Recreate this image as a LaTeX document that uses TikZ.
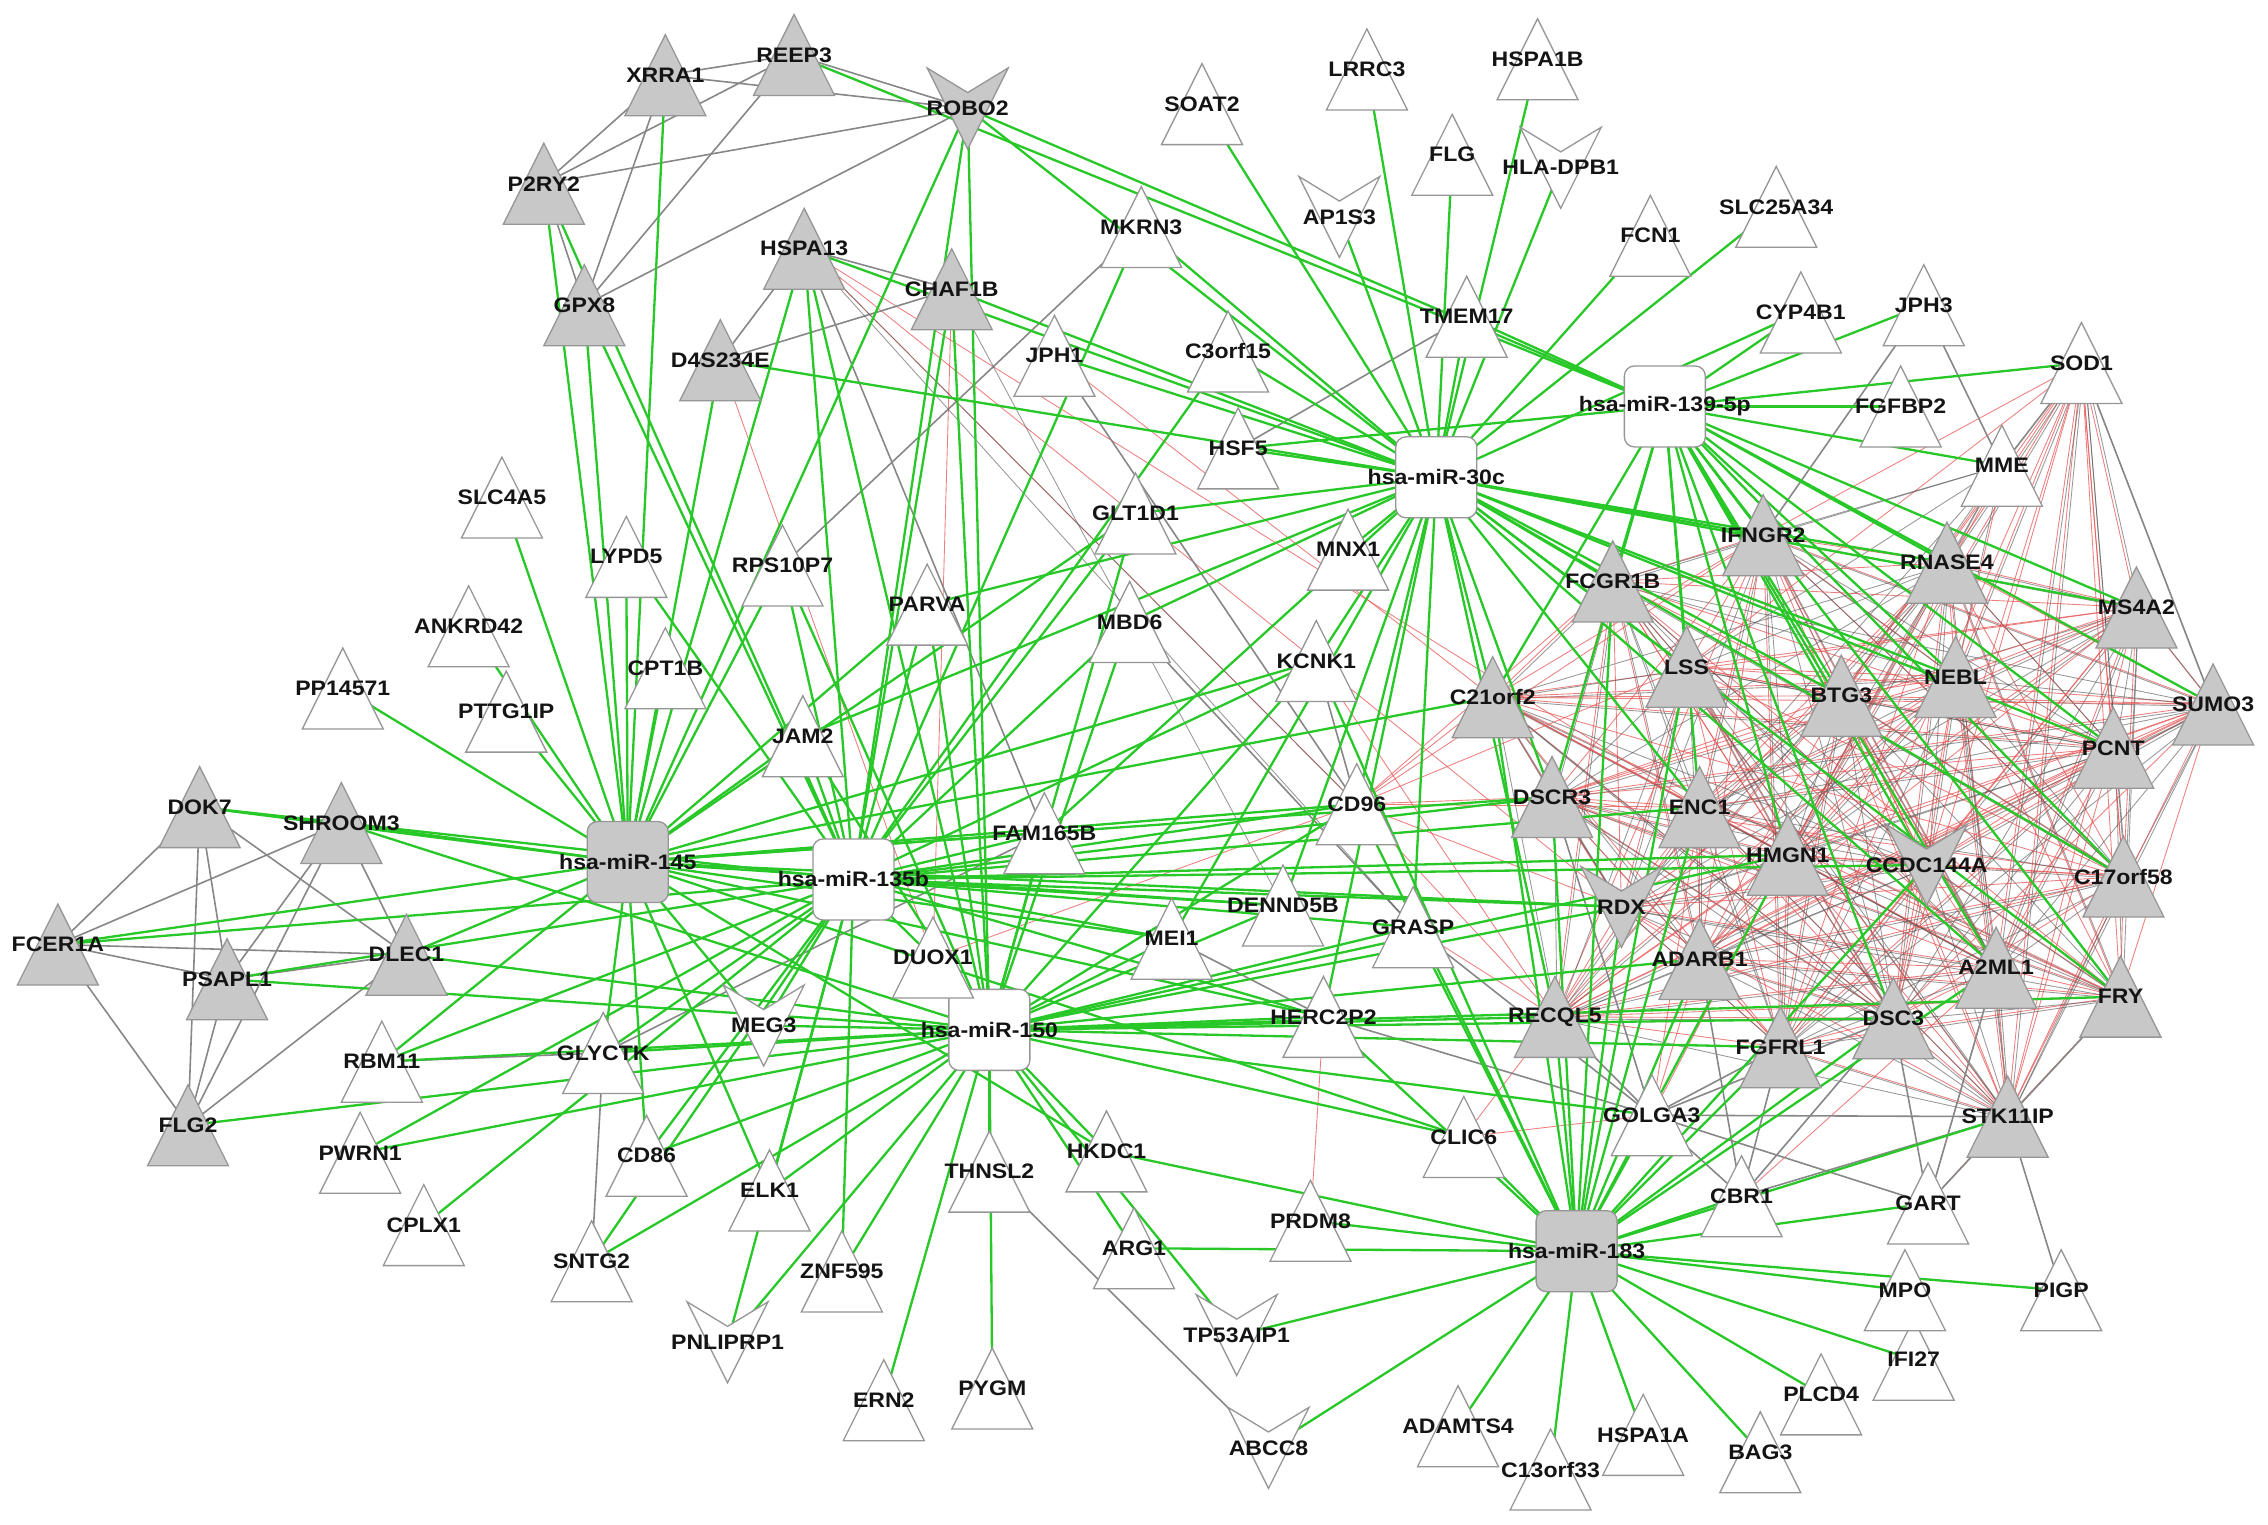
\documentclass[tikz,border=0pt]{standalone}
\usepackage{fontspec}
\setmainfont{Liberation Sans}[FakeStretch=1.1]
\pgfdeclarelayer{bg}
\pgfdeclarelayer{edges}
\pgfdeclarelayer{shapes}
\pgfsetlayers{bg,edges,shapes,main}
\definecolor{gfill}{RGB}{200,200,200}
\definecolor{bcol}{RGB}{150,150,150}
\definecolor{gcol}{RGB}{40,200,40}
\definecolor{ycol}{RGB}{135,135,135}
\definecolor{rcol}{RGB}{232,85,85}
\definecolor{dcol}{RGB}{85,85,85}
\tikzset{
  shW/.style={draw=bcol, fill=white, line width=0.9pt},
  shG/.style={draw=bcol, fill=gfill, line width=0.9pt},
  tW/.pic={\path[shW] (-28,28)--(0,-28)--(28,28)--cycle;},
  tG/.pic={\path[shG] (-28,28)--(0,-28)--(28,28)--cycle;},
  vW/.pic={\path[shW] (-28,-28)--(0,-11)--(28,-28)--(0,28)--cycle;},
  vG/.pic={\path[shG] (-28,-28)--(0,-11)--(28,-28)--(0,28)--cycle;},
  sW/.pic={\path[shW, rounded corners=7pt] (-28,-28) rectangle (28,28);},
  sG/.pic={\path[shG, rounded corners=7pt] (-28,-28) rectangle (28,28);},
  lab/.style={inner sep=0pt, font=\bfseries\fontsize{14.5}{15}\selectfont, text=black!92},
  ge/.style={draw=gcol, line width=1.6pt},
  gy/.style={draw=ycol, line width=1.1pt},
  rd/.style={draw=rcol, line width=0.6pt, opacity=0.75},
  dk/.style={draw=dcol, line width=0.6pt, opacity=0.6},
}
\newcommand\nd[5]{\begin{pgfonlayer}{shapes}\pic at (#2,#3) {#4};\end{pgfonlayer}\node[lab] (#1) at (#2,#3) {#5};}
\begin{document}
\begin{tikzpicture}[x=1pt,y=-1pt]
\useasboundingbox (0,0) rectangle (1568,1054);
\begin{pgfonlayer}{bg}\fill[white] (0,0) rectangle (1568,1054);\end{pgfonlayer}
% miRNAs
\nd{m145}{434}{596}{sG}{hsa-miR-145}
\nd{m135}{590}{608}{sW}{hsa-miR-135b}
\nd{m150}{684}{712}{sW}{hsa-miR-150}
\nd{m183}{1090}{865}{sG}{hsa-miR-183}
\nd{m30c}{993}{330}{sW}{hsa-miR-30c}
\nd{m139}{1151}{281}{sW}{hsa-miR-139-5p}
% top left gray
\nd{XRRA1}{460}{52}{tG}{XRRA1}
\nd{REEP3}{549}{38}{tG}{REEP3}
\nd{ROBO2}{669}{75}{vG}{ROBO2}
\nd{P2RY2}{376}{127}{tG}{P2RY2}
\nd{GPX8}{404}{211}{tG}{GPX8}
\nd{HSPA13}{556}{172}{tG}{HSPA13}
\nd{CHAF1B}{658}{200}{tG}{CHAF1B}
\nd{D4S234E}{498}{249}{tG}{D4S234E}
% top white
\nd{SOAT2}{831}{72}{tW}{SOAT2}
\nd{LRRC3}{945}{48}{tW}{LRRC3}
\nd{HSPA1B}{1063}{41}{tW}{HSPA1B}
\nd{FLG}{1004}{107}{tW}{FLG}
\nd{HLADPB1}{1079}{116}{vW}{HLA-DPB1}
\nd{AP1S3}{926}{150}{vW}{AP1S3}
\nd{MKRN3}{789}{157}{tW}{MKRN3}
\nd{FCN1}{1141}{163}{tW}{FCN1}
\nd{SLC25A34}{1228}{143}{tW}{SLC25A34}
\nd{TMEM17}{1014}{219}{tW}{TMEM17}
\nd{CYP4B1}{1245}{216}{tW}{CYP4B1}
\nd{JPH3}{1330}{211}{tW}{JPH3}
\nd{SOD1}{1439}{251}{tW}{SOD1}
\nd{FGFBP2}{1314}{281}{tW}{FGFBP2}
\nd{MME}{1384}{322}{tW}{MME}
\nd{C3orf15}{849}{243}{tW}{C3orf15}
\nd{JPH1}{729}{246}{tW}{JPH1}
\nd{HSF5}{856}{310}{tW}{HSF5}
\nd{GLT1D1}{785}{355}{tW}{GLT1D1}
\nd{MNX1}{932}{380}{tW}{MNX1}
\nd{MBD6}{781}{430}{tW}{MBD6}
\nd{KCNK1}{910}{457}{tW}{KCNK1}
\nd{PARVA}{641}{418}{tW}{PARVA}
\nd{RPS10P7}{541}{391}{tW}{RPS10P7}
\nd{LYPD5}{433}{385}{tW}{LYPD5}
\nd{SLC4A5}{347}{344}{tW}{SLC4A5}
\nd{ANKRD42}{324}{433}{tW}{ANKRD42}
\nd{CPT1B}{460}{462}{tW}{CPT1B}
\nd{PP14571}{237}{476}{tW}{PP14571}
\nd{PTTG1IP}{350}{492}{tW}{PTTG1IP}
\nd{JAM2}{555}{509}{tW}{JAM2}
% cluster
\nd{IFNGR2}{1219}{370}{tG}{IFNGR2}
\nd{RNASE4}{1346}{389}{tG}{RNASE4}
\nd{FCGR1B}{1115}{402}{tG}{FCGR1B}
\nd{MS4A2}{1477}{420}{tG}{MS4A2}
\nd{LSS}{1166}{461}{tG}{LSS}
\nd{NEBL}{1352}{468}{tG}{NEBL}
\nd{BTG3}{1273}{481}{tG}{BTG3}
\nd{C21orf2}{1032}{482}{tG}{C21orf2}
\nd{SUMO3}{1530}{487}{tG}{SUMO3}
\nd{PCNT}{1461}{517}{tG}{PCNT}
\nd{DSCR3}{1073}{551}{tG}{DSCR3}
\nd{ENC1}{1175}{558}{tG}{ENC1}
\nd{HMGN1}{1236}{591}{tG}{HMGN1}
\nd{CCDC144A}{1332}{598}{vG}{CCDC144A}
\nd{C17orf58}{1468}{606}{tG}{C17orf58}
\nd{RDX}{1121}{627}{vG}{RDX}
\nd{ADARB1}{1175}{663}{tG}{ADARB1}
\nd{A2ML1}{1380}{669}{tG}{A2ML1}
\nd{FRY}{1466}{689}{tG}{FRY}
\nd{RECQL5}{1075}{703}{tG}{RECQL5}
\nd{FGFRL1}{1231}{724}{tG}{FGFRL1}
\nd{DSC3}{1309}{704}{tG}{DSC3}
\nd{STK11IP}{1388}{772}{tG}{STK11IP}
% middle white
\nd{CD96}{938}{556}{tW}{CD96}
\nd{FAM165B}{722}{576}{tW}{FAM165B}
\nd{DENND5B}{887}{626}{tW}{DENND5B}
\nd{GRASP}{977}{641}{tW}{GRASP}
\nd{MEI1}{810}{649}{tW}{MEI1}
\nd{HERC2P2}{915}{703}{tW}{HERC2P2}
\nd{DUOX1}{645}{662}{tW}{DUOX1}
\nd{MEG3}{528}{709}{vW}{MEG3}
% left
\nd{DOK7}{138}{558}{tG}{DOK7}
\nd{SHROOM3}{236}{569}{tG}{SHROOM3}
\nd{FCER1A}{40}{653}{tG}{FCER1A}
\nd{DLEC1}{281}{660}{tG}{DLEC1}
\nd{PSAPL1}{157}{677}{tG}{PSAPL1}
\nd{FLG2}{130}{778}{tG}{FLG2}
\nd{RBM11}{264}{734}{tW}{RBM11}
\nd{GLYCTK}{417}{728}{tW}{GLYCTK}
\nd{PWRN1}{249}{797}{tW}{PWRN1}
\nd{CD86}{447}{799}{tW}{CD86}
\nd{CPLX1}{293}{847}{tW}{CPLX1}
\nd{SNTG2}{409}{872}{tW}{SNTG2}
\nd{ELK1}{532}{823}{tW}{ELK1}
% bottom
\nd{THNSL2}{684}{810}{tW}{THNSL2}
\nd{HKDC1}{765}{796}{tW}{HKDC1}
\nd{CLIC6}{1012}{786}{tW}{CLIC6}
\nd{GOLGA3}{1142}{771}{tW}{GOLGA3}
\nd{CBR1}{1204}{827}{tW}{CBR1}
\nd{GART}{1333}{832}{tW}{GART}
\nd{PRDM8}{906}{844}{tW}{PRDM8}
\nd{ARG1}{784}{863}{tW}{ARG1}
\nd{ZNF595}{582}{879}{tW}{ZNF595}
\nd{PNLIPRP1}{503}{928}{vW}{PNLIPRP1}
\nd{TP53AIP1}{855}{923}{vW}{TP53AIP1}
\nd{ERN2}{611}{968}{tW}{ERN2}
\nd{PYGM}{686}{960}{tW}{PYGM}
\nd{ABCC8}{877}{1001}{vW}{ABCC8}
\nd{ADAMTS4}{1008}{986}{tW}{ADAMTS4}
\nd{C13orf33}{1072}{1016}{tW}{C13orf33}
\nd{HSPA1A}{1136}{992}{tW}{HSPA1A}
\nd{BAG3}{1217}{1004}{tW}{BAG3}
\nd{PLCD4}{1259}{964}{tW}{PLCD4}
\nd{IFI27}{1323}{940}{tW}{IFI27}
\nd{MPO}{1317}{892}{tW}{MPO}
\nd{PIGP}{1425}{892}{tW}{PIGP}
\begin{pgfonlayer}{edges}
% dense cluster mesh
\def\clist{IFNGR2,RNASE4,FCGR1B,MS4A2,LSS,NEBL,BTG3,C21orf2,SUMO3,PCNT,DSCR3,ENC1,HMGN1,CCDC144A,C17orf58,RDX,ADARB1,A2ML1,FRY,RECQL5,FGFRL1,DSC3,STK11IP}
\foreach \a [count=\i] in \clist {
  \foreach \b [count=\j] in \clist {
    \ifnum\j>\i
      \pgfmathtruncatemacro\k{mod(\i+2*\j,3)}
      \ifnum\k>0 \draw[rd] (\a.center) -- (\b.center); \fi
      \ifnum\k<2 \draw[dk] ([shift={(1.5,1.5)}]\a.center) -- ([shift={(1.5,1.5)}]\b.center); \fi
    \fi
  }
}
% SOD1 and MME fans
\foreach \t in {IFNGR2,RNASE4,NEBL,BTG3,MS4A2,SUMO3,PCNT,C17orf58,FRY,A2ML1,DSC3,HMGN1,CCDC144A,STK11IP,LSS,FGFRL1}{
  \draw[rd] (SOD1.center) -- (\t.center);}
\foreach \t in {RNASE4,NEBL,MS4A2,PCNT,C17orf58,A2ML1,HMGN1,STK11IP}{
  \draw[dk] ([shift={(2,0)}]SOD1.center) -- ([shift={(2,0)}]\t.center);}
\foreach \t in {RNASE4,NEBL,BTG3,LSS,FCGR1B,IFNGR2,HMGN1,ENC1}{
  \draw[dk] (MME.center) -- (\t.center);}
\foreach \t in {NEBL,BTG3,HMGN1}{\draw[rd] ([shift={(2,0)}]MME.center) -- (\t.center);}
% other red lines
\foreach \a/\b in {HSPA13/RDX,HSPA13/ENC1,HSPA13/CD96,CHAF1B/DUOX1,D4S234E/DUOX1,HERC2P2/PRDM8,KCNK1/RECQL5,GRASP/RECQL5,CLIC6/GOLGA3,CLIC6/RECQL5,CD96/C21orf2,CD96/DSCR3,CD96/LSS,CD96/FCGR1B,CD96/RDX,CD96/ENC1,CD96/RECQL5,CD96/IFNGR2,JPH1/C21orf2,GART/STK11IP,GART/A2ML1,DUOX1/CD96,GOLGA3/ADARB1,GOLGA3/HMGN1,GOLGA3/ENC1,GART/FRY,CBR1/A2ML1}{
  \draw[rd] (\a.center) -- (\b.center);}
% gray lines
\foreach \a/\b in {XRRA1/REEP3,XRRA1/ROBO2,XRRA1/P2RY2,XRRA1/GPX8,REEP3/P2RY2,REEP3/ROBO2,REEP3/GPX8,ROBO2/P2RY2,ROBO2/GPX8,P2RY2/GPX8,
  HSPA13/CHAF1B,HSPA13/D4S234E,CHAF1B/D4S234E,HSPA13/FAM165B,MKRN3/RPS10P7,JPH1/CD96,HSF5/TMEM17,
  DOK7/FCER1A,DOK7/PSAPL1,DOK7/FLG2,DOK7/DLEC1,SHROOM3/FCER1A,SHROOM3/PSAPL1,SHROOM3/FLG2,SHROOM3/DLEC1,FCER1A/DLEC1,FCER1A/PSAPL1,FCER1A/FLG2,PSAPL1/DLEC1,PSAPL1/FLG2,DLEC1/FLG2,
  GLYCTK/RBM11,GLYCTK/SNTG2,GLYCTK/FAM165B,THNSL2/ABCC8,MEI1/HERC2P2,HERC2P2/GOLGA3,GRASP/GOLGA3,DSCR3/GOLGA3,RECQL5/GOLGA3,
  GOLGA3/STK11IP,GOLGA3/CBR1,GOLGA3/GART,GOLGA3/FGFRL1,GOLGA3/DSC3,CBR1/DSC3,CBR1/STK11IP,GART/DSC3,GART/A2ML1,GART/FRY,STK11IP/PIGP,CBR1/FGFRL1,CBR1/ADARB1,
  SOD1/MME,SOD1/SUMO3,JPH3/MME,JPH3/IFNGR2,KCNK1/CD96,MBD6/GRASP}{
  \draw[gy] (\a.center) -- (\b.center);}
\foreach \a/\b in {HSPA13/CD96,HSPA13/GRASP,CHAF1B/DENND5B}{\draw[dk] (\a.center) -- (\b.center);}
% green: miR-145
\foreach \t in {DOK7,SHROOM3,FCER1A,DLEC1,PP14571,PTTG1IP,ANKRD42,SLC4A5,LYPD5,CPT1B,XRRA1,P2RY2,GPX8,D4S234E,RPS10P7,JAM2,PARVA,GLT1D1,KCNK1,CD96,DSCR3,C21orf2,FAM165B,RDX,DENND5B,MEI1,HERC2P2,GLYCTK,RBM11,CD86,ELK1,HKDC1,CLIC6,MEG3,ROBO2,HSPA13}{
  \draw[ge] (m145.center) -- (\t.center);}
% green: miR-135b
\foreach \t in {DOK7,FCER1A,PSAPL1,RBM11,PWRN1,CPLX1,GLYCTK,SNTG2,CD86,ELK1,ZNF595,PNLIPRP1,MEG3,DUOX1,FAM165B,CD96,DSCR3,ENC1,HMGN1,RDX,CCDC144A,DENND5B,MEI1,HERC2P2,GRASP,KCNK1,MBD6,GLT1D1,PARVA,JAM2,RPS10P7,LYPD5,GPX8,P2RY2,HSPA13,CHAF1B,ROBO2,C3orf15,MKRN3}{
  \draw[ge] (m135.center) -- (\t.center);}
% green: miR-150
\foreach \t in {FLG2,PSAPL1,DLEC1,SHROOM3,GLYCTK,CD86,ELK1,ZNF595,PNLIPRP1,ERN2,PYGM,THNSL2,HKDC1,ARG1,TP53AIP1,CLIC6,RECQL5,FGFRL1,DSC3,FRY,HERC2P2,MEI1,DENND5B,CD96,GRASP,FAM165B,DUOX1,MEG3,JAM2,PARVA,MBD6,KCNK1,GLT1D1,HSPA13,CHAF1B,ROBO2,RPS10P7,RDX,HMGN1,SNTG2,PWRN1,RBM11,GOLGA3,ADARB1}{
  \draw[ge] (m150.center) -- (\t.center);}
% green: miR-30c
\foreach \t in {SOAT2,LRRC3,AP1S3,FLG,HSPA1B,HLADPB1,TMEM17,FCN1,SLC25A34,MKRN3,C3orf15,HSF5,JPH1,GLT1D1,MNX1,MBD6,KCNK1,ROBO2,CD96,C21orf2,FCGR1B,LSS,IFNGR2,BTG3,NEBL,RNASE4,MS4A2,PCNT,ENC1,DSCR3,RECQL5,GRASP,HERC2P2,DENND5B,MEI1,PARVA,JAM2,FAM165B,A2ML1,FRY,C17orf58,CYP4B1,D4S234E,HSPA13,CHAF1B}{
  \draw[ge] (m30c.center) -- (\t.center);}
% green: miR-139-5p
\foreach \t in {TMEM17,CYP4B1,JPH3,SOD1,FGFBP2,MME,REEP3,ROBO2,HSF5,IFNGR2,RNASE4,MS4A2,SUMO3,PCNT,NEBL,BTG3,LSS,FCGR1B,C21orf2,ENC1,HMGN1,C17orf58,CCDC144A,FRY,DSCR3,DSC3,A2ML1}{
  \draw[ge] (m139.center) -- (\t.center);}
% green: miR-183
\foreach \t in {CLIC6,GOLGA3,CBR1,GART,MPO,PIGP,IFI27,PLCD4,BAG3,HSPA1A,C13orf33,ADAMTS4,ABCC8,TP53AIP1,ARG1,PRDM8,HKDC1,STK11IP,DSC3,FGFRL1,RECQL5,ADARB1,HMGN1,ENC1,RDX,GRASP,DSCR3,CD96,C21orf2,FCGR1B,LSS,A2ML1,CCDC144A,HERC2P2,KCNK1}{
  \draw[ge] (m183.center) -- (\t.center);}
\end{pgfonlayer}
\end{tikzpicture}
\end{document}
